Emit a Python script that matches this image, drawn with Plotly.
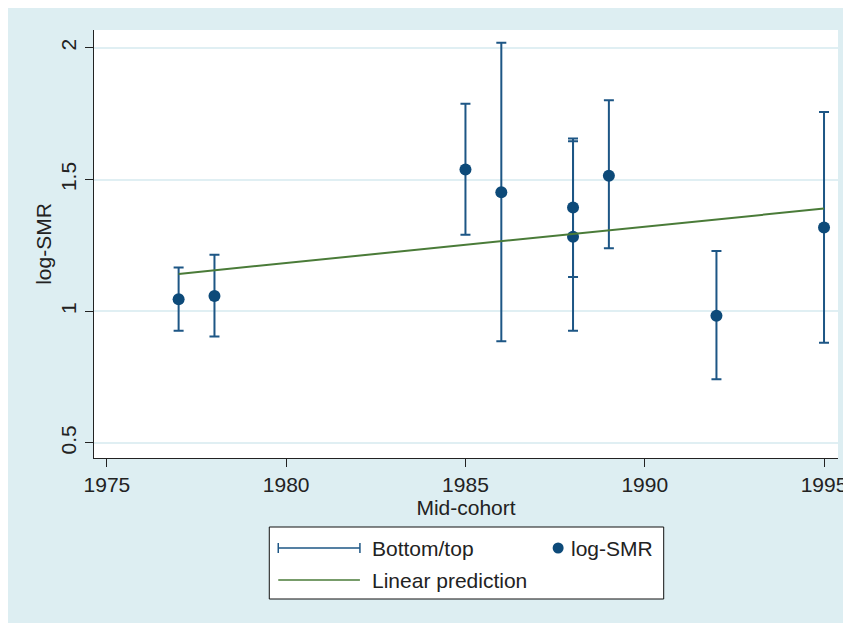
import plotly.graph_objects as go

# ---- data ----
mid_cohort = [1977, 1978, 1985, 1986, 1988, 1988, 1989, 1992, 1995]
log_smr    = [1.046, 1.058, 1.538, 1.452, 1.394, 1.283, 1.515, 0.983, 1.318]
ci_top     = [1.166, 1.215, 1.788, 2.020, 1.656, 1.646, 1.801, 1.229, 1.757]
ci_bottom  = [0.926, 0.904, 1.291, 0.886, 1.130, 0.926, 1.239, 0.742, 0.881]
pred_x     = [1977, 1995]
pred_y     = [1.142, 1.390]
x_ticks    = [1975, 1980, 1985, 1990, 1995]
y_ticks    = [0.5, 1, 1.5, 2]
y_ticklbl  = ["0.5", "1", "1.5", "2"]

NAVY = "#0d4a79"
BAR = "#1d5685"
GREEN = "#4a7b38"
BG = "#ddeef2"
FONT = "Liberation Sans, Arial, Helvetica, sans-serif"
TXT = "#222222"

OFF = 8  # page body margin
W, H = 851, 623
L, T = 86, 22
PLOT_R, PLOT_B = 833, 450   # figure coords of plot-area right / bottom
R, B = W - PLOT_R, H - PLOT_B
PW, PH = W - L - R, H - T - B

def px(x):
    # page pixel -> paper fraction
    return (x - OFF - L) / PW

def py(y):
    return (H - B - (y - OFF)) / PH

fig = go.Figure()

# Bottom/top (range caps)
fig.add_trace(go.Scatter(
    x=mid_cohort, y=log_smr, mode="markers",
    marker=dict(size=1, color="rgba(0,0,0,0)"),
    error_y=dict(type="data", symmetric=False,
                 array=[t - v for t, v in zip(ci_top, log_smr)],
                 arrayminus=[v - b for v, b in zip(log_smr, ci_bottom)],
                 color=BAR, thickness=2, width=5),
    name="Bottom/top", showlegend=False, hoverinfo="skip"))

# log-SMR points
fig.add_trace(go.Scatter(
    x=mid_cohort, y=log_smr, mode="markers",
    marker=dict(size=12, color=NAVY),
    name="log-SMR", showlegend=False))

# Linear prediction
fig.add_trace(go.Scatter(
    x=pred_x, y=pred_y, mode="lines",
    line=dict(color=GREEN, width=2),
    name="Linear prediction", showlegend=False))

shapes = [
    # legend box
    dict(type="rect", xref="paper", yref="paper",
         x0=px(270), x1=px(666), y0=py(599), y1=py(527),
         fillcolor="white", line=dict(color="#111111", width=1)),
    # legend: range cap symbol
    dict(type="line", xref="paper", yref="paper",
         x0=px(279), x1=px(361), y0=py(548), y1=py(548),
         line=dict(color=BAR, width=1.5)),
    dict(type="line", xref="paper", yref="paper",
         x0=px(279), x1=px(279), y0=py(543), y1=py(553),
         line=dict(color=BAR, width=1.5)),
    dict(type="line", xref="paper", yref="paper",
         x0=px(361), x1=px(361), y0=py(543), y1=py(553),
         line=dict(color=BAR, width=1.5)),
    # legend: marker symbol
    dict(type="circle", xref="paper", yref="paper",
         x0=px(554.5), x1=px(565.5), y0=py(553.5), y1=py(542.5),
         fillcolor=NAVY, line=dict(width=0)),
    # legend: green line
    dict(type="line", xref="paper", yref="paper",
         x0=px(279), x1=px(361), y0=py(580), y1=py(580),
         line=dict(color=GREEN, width=1.5)),
]

annotations = [
    dict(text="Bottom/top", x=px(371), y=py(548), xref="paper", yref="paper",
         xanchor="left", yanchor="middle", showarrow=False,
         font=dict(family=FONT, size=21, color=TXT)),
    dict(text="log-SMR", x=px(571), y=py(548), xref="paper", yref="paper",
         xanchor="left", yanchor="middle", showarrow=False,
         font=dict(family=FONT, size=21, color=TXT)),
    dict(text="Linear prediction", x=px(371), y=py(580), xref="paper", yref="paper",
         xanchor="left", yanchor="middle", showarrow=False,
         font=dict(family=FONT, size=21, color=TXT)),
]

fig.update_layout(
    width=W, height=H,
    margin=dict(l=L, r=R, t=T, b=B, pad=0),
    paper_bgcolor=BG, plot_bgcolor="white",
    font=dict(family=FONT, size=21, color=TXT),
    shapes=shapes, annotations=annotations,
    showlegend=False,
)

fig.update_xaxes(
    range=[1974.64, 1995.39], tickmode="array", tickvals=x_ticks,
    ticks="outside", ticklen=8, tickwidth=1.3, tickcolor="#222222",
    showline=True, linecolor="#222222", linewidth=1.3,
    showgrid=False, zeroline=False,
    tickfont=dict(family=FONT, size=21, color=TXT),
    title=dict(text="Mid-cohort", standoff=4,
               font=dict(family=FONT, size=21, color=TXT)),
)
fig.update_yaxes(
    range=[0.443, 2.068], tickmode="array", tickvals=y_ticks, ticktext=y_ticklbl,
    ticks="outside", ticklen=8, tickwidth=1.3, tickcolor="#222222",
    tickangle=-90,
    showline=True, linecolor="#222222", linewidth=1.3,
    showgrid=True, gridcolor="#e0eff3", gridwidth=1.5, zeroline=False,
    tickfont=dict(family=FONT, size=21, color=TXT),
    title=dict(text="log-SMR", standoff=0,
               font=dict(family=FONT, size=21, color=TXT)),
)

fig.write_html("out.html")
